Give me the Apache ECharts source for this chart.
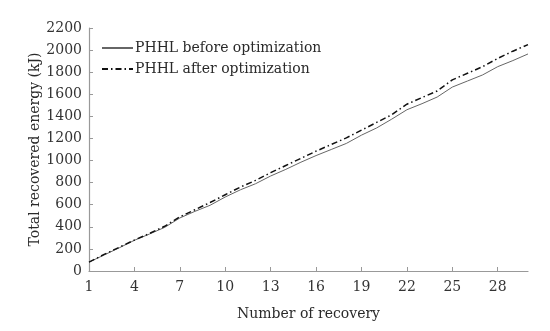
<!DOCTYPE html>
<html>
<head>
<meta charset="utf-8">
<script src="https://cdn.jsdelivr.net/npm/echarts@6/dist/echarts.min.js"></script>
<style>html,body{margin:0;padding:0;background:#fff}#c{width:550px;height:331px}</style>
</head>
<body>
<div id="c"></div>
<script>
var categories = [1,2,3,4,5,6,7,8,9,10,11,12,13,14,15,16,17,18,19,20,21,22,23,24,25,26,27,28,29,30];
var beforeOpt = [80,145,210,278,335,395,480,540,595,670,735,790,860,920,985,1045,1100,1155,1230,1295,1375,1460,1515,1575,1665,1720,1775,1850,1905,1965];
var afterOpt = [80,150,215,280,340,405,490,555,620,690,760,820,890,955,1020,1085,1145,1205,1275,1345,1415,1510,1570,1630,1730,1790,1850,1925,1990,2050];
var yTicks = {min: 0, max: 2200, interval: 200};

var font = 'DejaVu Serif';
var chart = echarts.init(document.getElementById('c'), null, {renderer: 'canvas'});
chart.setOption({
  animation: false,
  backgroundColor: '#fff',
  grid: {left: 89, right: 22, top: 28, bottom: 60, containLabel: false},
  legend: {
    orient: 'vertical', left: 96, top: 36, itemWidth: 31, itemHeight: 14, itemGap: 7,
    itemStyle: {opacity: 0},
    textStyle: {fontFamily: font, fontSize: 14, color: '#2a2a2a', padding: [0,0,0,-3]},
    data: ['PHHL before optimization', 'PHHL after optimization']
  },
  xAxis: {
    type: 'category', data: categories, boundaryGap: false,
    name: 'Number of recovery', nameLocation: 'middle', nameGap: 36, nameMoveOverlap: false,
    nameTextStyle: {fontFamily: font, fontSize: 14, color: '#2a2a2a'},
    axisLine: {lineStyle: {color: '#999', width: 1.2}},
    axisTick: {inside: true, length: 4, interval: 2, lineStyle: {color: '#999'}},
    axisLabel: {interval: 2, fontFamily: font, fontSize: 14, color: '#333', margin: 9},
    splitLine: {show: false}
  },
  yAxis: {
    type: 'value', min: yTicks.min, max: yTicks.max, interval: yTicks.interval,
    name: 'Total recovered energy (kJ)', nameLocation: 'middle', nameGap: 47, nameMoveOverlap: false,
    nameTextStyle: {fontFamily: font, fontSize: 14, color: '#2a2a2a'},
    axisLine: {show: true, lineStyle: {color: '#999', width: 1.2}},
    axisTick: {show: true, inside: true, length: 4, lineStyle: {color: '#999'}},
    axisLabel: {fontFamily: font, fontSize: 14, color: '#333', margin: 7, formatter: function (v) { return String(v); }},
    splitLine: {show: false}
  },
  series: [
    {name: 'PHHL before optimization', type: 'line', data: beforeOpt, symbol: 'none',
     lineStyle: {color: '#666', width: 1}, itemStyle: {color: '#666'}},
    {name: 'PHHL after optimization', type: 'line', data: afterOpt, symbol: 'none',
     lineStyle: {color: '#111', width: 1.5, type: [6,3,1.5,3]}, itemStyle: {color: '#111'}}
  ]
});
</script>
</body>
</html>
